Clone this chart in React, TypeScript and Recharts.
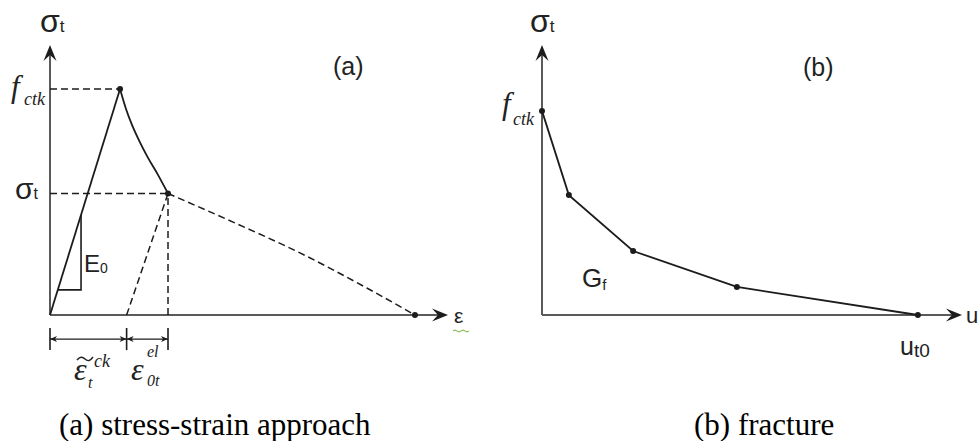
import React from 'react'
import { ComposedChart, Line, XAxis, YAxis, ReferenceLine, ReferenceDot } from 'recharts'

type Pt = { x: number; y: number }

// ---- (a) stress-strain approach ----
const peakStrain = 1.76
const fctkA = 8.37
const sigmaStrain = 2.965
const sigmaT = 4.5
const crackStrain = 1.925
const endStrain = 9.17

const loadingA: Pt[] = [
  { x: 0, y: 0 },
  { x: peakStrain, y: fctkA },
]
const softeningA: Pt[] = [
  { x: peakStrain, y: fctkA },
  { x: 1.91, y: 7.63 },
  { x: 2.06, y: 7.04 },
  { x: 2.236, y: 6.47 },
  { x: 2.46, y: 5.83 },
  { x: 2.71, y: 5.2 },
  { x: sigmaStrain, y: sigmaT },
]
const tailA: Pt[] = [
  { x: sigmaStrain, y: sigmaT },
  { x: 4.6, y: 3.44 },
  { x: 6.28, y: 2.3 },
  { x: 7.96, y: 1.0 },
  { x: endStrain, y: 0 },
]
const unloadA: Pt[] = [
  { x: crackStrain, y: 0 },
  { x: sigmaStrain, y: sigmaT },
]
const slopeTriangle: Pt[] = [
  { x: 0.78, y: 3.7 },
  { x: 0.78, y: 0.93 },
  { x: 0.195, y: 0.93 },
]
const markedA: Pt[] = [
  { x: peakStrain, y: fctkA },
  { x: sigmaStrain, y: sigmaT },
  { x: endStrain, y: 0 },
]
const dimLevel = -0.89
const dimTicks = [0, crackStrain, sigmaStrain]

// ---- (b) fracture ----
const fractureB: Pt[] = [
  { x: 0, y: 7.56 },
  { x: 0.64, y: 4.44 },
  { x: 2.17, y: 2.37 },
  { x: 4.64, y: 1.04 },
  { x: 8.95, y: 0 },
]

const AXIS = '#5a5a5a'
const INK = '#1c1c1c'
const DASH = '7 4'
const SANS = "'Liberation Sans', Arial, sans-serif"
const SERIF = "'Liberation Serif', 'Times New Roman', serif"

function arrowHead(x1: number, y1: number, x2: number, y2: number, len: number, half: number, notch: number) {
  const a = Math.atan2(y2 - y1, x2 - x1)
  const c = Math.cos(a)
  const s = Math.sin(a)
  const pt = (along: number, across: number) =>
    `${x2 - along * c - across * s},${y2 - along * s + across * c}`
  return `M${x2},${y2} L${pt(len, half)} L${pt(len - notch, 0)} L${pt(len, -half)} Z`
}

// axis line ending in a barbed arrow
const AxisArrow = (props: any) => {
  const { x1, y1, x2, y2 } = props
  const a = Math.atan2(y2 - y1, x2 - x1)
  const ex = x2 - 10 * Math.cos(a)
  const ey = y2 - 10 * Math.sin(a)
  return (
    <g>
      <line x1={x1} y1={y1} x2={ex} y2={ey} stroke={AXIS} strokeWidth={2} />
      <path d={arrowHead(x1, y1, x2, y2, 16, 6.5, 6)} fill={INK} />
    </g>
  )
}

// dimension line with arrows on both ends
const DimArrow = (props: any) => {
  const { x1, y1, x2, y2 } = props
  return (
    <g>
      <line x1={x1} y1={y1} x2={x2} y2={y2} stroke={INK} strokeWidth={1.3} />
      <path d={arrowHead(x1, y1, x2, y2, 7, 3, 2)} fill={INK} />
      <path d={arrowHead(x2, y2, x1, y1, 7, 3, 2)} fill={INK} />
    </g>
  )
}

const W = 490
const H = 441

function StressStrainChart() {
  return (
    <ComposedChart
      width={W}
      height={H}
      margin={{ top: 45, right: 42, bottom: 58.5, left: 50 }}
      style={{ position: 'absolute', left: 0, top: 0 }}
    >
      <XAxis dataKey="x" type="number" domain={[0, 10]} hide />
      <YAxis type="number" domain={[-2.5, 10]} hide />
      <ReferenceLine segment={[{ x: 0, y: 0 }, { x: 0, y: 10 }]} shape={AxisArrow} />
      <ReferenceLine segment={[{ x: 0, y: 0 }, { x: 10, y: 0 }]} shape={AxisArrow} />
      <ReferenceLine
        segment={[{ x: 0, y: fctkA }, { x: peakStrain, y: fctkA }]}
        stroke={INK}
        strokeWidth={1.5}
        strokeDasharray={DASH}
      />
      <ReferenceLine
        segment={[{ x: 0, y: sigmaT }, { x: sigmaStrain, y: sigmaT }]}
        stroke={INK}
        strokeWidth={1.5}
        strokeDasharray={DASH}
      />
      <ReferenceLine
        segment={[{ x: sigmaStrain, y: 0 }, { x: sigmaStrain, y: sigmaT }]}
        stroke={INK}
        strokeWidth={1.5}
        strokeDasharray={DASH}
      />
      <Line data={loadingA} dataKey="y" type="linear" stroke={INK} strokeWidth={1.8} dot={false} isAnimationActive={false} />
      <Line data={softeningA} dataKey="y" type="monotone" stroke={INK} strokeWidth={1.8} dot={false} isAnimationActive={false} />
      <Line data={slopeTriangle} dataKey="y" type="linear" stroke={INK} strokeWidth={1.6} dot={false} isAnimationActive={false} />
      <Line
        data={tailA}
        dataKey="y"
        type="monotone"
        stroke={INK}
        strokeWidth={1.5}
        strokeDasharray={DASH}
        dot={false}
        isAnimationActive={false}
      />
      <Line
        data={unloadA}
        dataKey="y"
        type="linear"
        stroke={INK}
        strokeWidth={1.5}
        strokeDasharray={DASH}
        dot={false}
        isAnimationActive={false}
      />
      {markedA.map((p, i) => (
        <ReferenceDot key={i} x={p.x} y={p.y} r={3} fill={INK} stroke="none" />
      ))}
      {dimTicks.map((t) => (
        <ReferenceLine
          key={t}
          segment={[{ x: t, y: -0.48 }, { x: t, y: -1.3 }]}
          stroke={INK}
          strokeWidth={1.6}
        />
      ))}
      <ReferenceLine segment={[{ x: dimTicks[0], y: dimLevel }, { x: dimTicks[1], y: dimLevel }]} shape={DimArrow} />
      <ReferenceLine segment={[{ x: dimTicks[1], y: dimLevel }, { x: dimTicks[2], y: dimLevel }]} shape={DimArrow} />
    </ComposedChart>
  )
}

function FractureChart() {
  return (
    <ComposedChart
      width={W}
      height={H}
      margin={{ top: 45, right: 18, bottom: 58.5, left: 52 }}
      style={{ position: 'absolute', left: 490, top: 0 }}
    >
      <XAxis dataKey="x" type="number" domain={[0, 10]} hide />
      <YAxis type="number" domain={[-2.5, 10]} hide />
      <ReferenceLine segment={[{ x: 0, y: 0 }, { x: 0, y: 10 }]} shape={AxisArrow} />
      <ReferenceLine segment={[{ x: 0, y: 0 }, { x: 10, y: 0 }]} shape={AxisArrow} />
      <Line
        data={fractureB}
        dataKey="y"
        type="linear"
        stroke={INK}
        strokeWidth={1.8}
        dot={{ r: 3, fill: INK, stroke: 'none' }}
        isAnimationActive={false}
      />
    </ComposedChart>
  )
}

function Labels() {
  const ink = '#222'
  return (
    <svg width={980} height={441} style={{ position: 'absolute', left: 0, top: 0, pointerEvents: 'none' }}>
      {/* panel (a) */}
      <text x={40} y={32} fontFamily={SANS} fontSize={32} fill={ink}>
        σ<tspan fontSize={17}>t</tspan>
      </text>
      <text x={333} y={75} fontFamily={SANS} fontSize={25} fill={ink}>(a)</text>
      <text x={11} y={97} fontFamily={SERIF} fontStyle="italic" fontSize={31} fill={ink}>
        f<tspan x={24} y={105} fontSize={18}>ctk</tspan>
      </text>
      <text x={15} y={199} fontFamily={SANS} fontSize={30} fill={ink}>
        σ<tspan fontSize={16}>t</tspan>
      </text>
      <text x={84} y={272} fontFamily={SANS} fontSize={24} fill={ink}>
        E<tspan fontSize={14} dy={1}>0</tspan>
      </text>
      <text x={454} y={323} fontFamily={SANS} fontSize={21} fill={ink}>ε</text>
      <path d="M453,331 q2,-2 4,0 t4,0 t4,0 t4,0" stroke="#6fae3a" strokeWidth={1} fill="none" />
      <path d="M77,360 q4,-5 8,-1 t8,-2" stroke={ink} strokeWidth={1.4} fill="none" />
      <text x={74} y={380} fontFamily={SERIF} fontStyle="italic" fontSize={32} fill={ink}>ε</text>
      <text x={88} y={388} fontFamily={SERIF} fontStyle="italic" fontSize={16} fill={ink}>t</text>
      <text x={94} y={367} fontFamily={SERIF} fontStyle="italic" fontSize={18} fill={ink}>ck</text>
      <text x={131} y={380} fontFamily={SERIF} fontStyle="italic" fontSize={32} fill={ink}>ε</text>
      <text x={147} y={357} fontFamily={SERIF} fontStyle="italic" fontSize={16} fill={ink}>el</text>
      <text x={147} y={386} fontFamily={SERIF} fontStyle="italic" fontSize={16} fill={ink}>0t</text>

      {/* panel (b) */}
      <text x={530} y={32} fontFamily={SANS} fontSize={32} fill={ink}>
        σ<tspan fontSize={17}>t</tspan>
      </text>
      <text x={803} y={76} fontFamily={SANS} fontSize={25} fill={ink}>(b)</text>
      <text x={502} y={114} fontFamily={SERIF} fontStyle="italic" fontSize={31} fill={ink}>
        f<tspan x={513} y={125} fontSize={18}>ctk</tspan>
      </text>
      <text x={582} y={287} fontFamily={SANS} fontSize={26} fill={ink}>
        G<tspan fontSize={15} dy={3}>f</tspan>
      </text>
      <text x={900} y={355} fontFamily={SANS} fontSize={25} fill={ink}>
        u<tspan fontSize={19} dy={2}>t0</tspan>
      </text>
      <text x={966} y={323} fontFamily={SANS} fontSize={22} fill={ink}>u</text>

      {/* captions */}
      <text x={59} y={435} fontFamily={SERIF} fontSize={31} fill="#000">(a) stress-strain approach</text>
      <text x={694} y={435} fontFamily={SERIF} fontSize={31} fill="#000">(b) fracture</text>
    </svg>
  )
}

export default function App() {
  return (
    <div style={{ position: 'absolute', left: 0, top: 0, width: 980, height: 441, background: '#fff' }}>
      <StressStrainChart />
      <FractureChart />
      <Labels />
    </div>
  )
}
